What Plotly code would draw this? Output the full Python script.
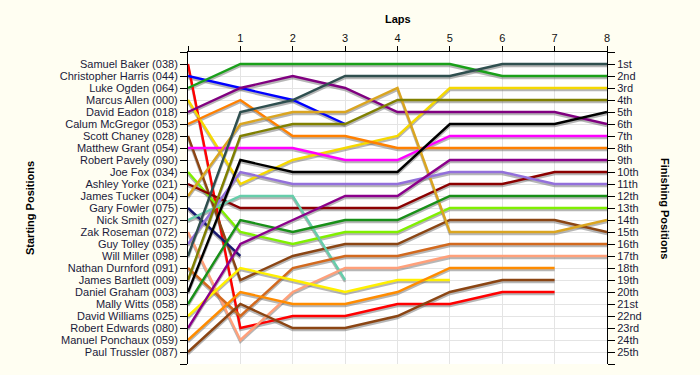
import plotly.graph_objects as go

laps = [0, 1, 2, 3, 4, 5, 6, 7, 8]
lap_labels = ["", "1", "2", "3", "4", "5", "6", "7", "8"]

drivers = [
    "Samuel Baker (038)", "Christopher Harris (044)", "Luke Ogden (064)",
    "Marcus Allen (000)", "David Eadon (018)", "Calum McGregor (053)",
    "Scott Chaney (028)", "Matthew Grant (054)", "Robert Pavely (090)",
    "Joe Fox (034)", "Ashley Yorke (021)", "James Tucker (004)",
    "Gary Fowler (075)", "Nick Smith (027)", "Zak Roseman (072)",
    "Guy Tolley (035)", "Will Miller (098)", "Nathan Durnford (091)",
    "James Bartlett (009)", "Daniel Graham (003)", "Mally Witts (058)",
    "David Williams (025)", "Robert Edwards (080)", "Manuel Ponchaux (059)",
    "Paul Trussler (087)",
]

finish_labels = ["1st", "2nd", "3rd"] + [f"{i}th" for i in range(4, 21)] + ["21st", "22nd", "23rd", "24th", "25th"]

positions = [
    [1, 23, 22, 22, 21, 21, 20, 20],
    [2, 3, 4, 6],
    [3, 1, 1, 1, 1, 1, 2, 2, 2],
    [4, 11, 9, 8, 7, 3, 3, 3, 3],
    [5, 3, 2, 3, 5, 5, 5, 5, 6],
    [6, 4, 7, 7, 8, 8, 8, 8, 8],
    [7, 19, 17, 16, 16, 14, 14, 14, 15],
    [8, 8, 8, 9, 9, 7, 7, 7, 7],
    [9],
    [10, 15, 16, 15, 15, 13, 13, 13, 13],
    [11, 13, 13, 13, 13, 11, 11, 10, 10],
    [12, 6, 5, 5, 3, 15, 15, 15, 14],
    [13, 17],
    [14, 12, 12, 19],
    [15, 24, 20, 18, 18, 17, 17, 17, 17],
    [16, 10, 11, 11, 11, 10, 10, 11, 11],
    [17, 5, 4, 2, 2, 2, 1, 1, 1],
    [18, 22, 18, 17, 17, 16, 16, 16, 16],
    [19, 7, 6, 6, 4, 4, 4, 4, 4],
    [20, 9, 10, 10, 10, 6, 6, 6, 5],
    [21, 14, 15, 14, 14, 12, 12, 12, 12],
    [22, 18, 19, 20, 19, 19],
    [23, 16, 14, 12, 12, 9, 9, 9, 9],
    [24, 20, 21, 21, 20, 18, 18, 18],
    [25, 21, 23, 23, 22, 20, 19, 19],
]

colors = [
    "#FF0000", "#0000FF", "#1AA01A", "#F5D800", "#800080", "#FF8000",
    "#8B4513", "#FF00FF", "#808080", "#80F000", "#8B0000", "#DAA520",
    "#191970", "#66CDAA", "#FFA07A", "#9370DB", "#2F4F4F", "#D2691E",
    "#808000", "#000000", "#189018", "#FFF000", "#8B008B", "#FF8C00",
    "#8B4513",
]

FONT = "Liberation Sans, Arial, sans-serif"
BG = "#FFFEF2"
n_pos = len(drivers)

fig = go.Figure()

# soft shadows under each line
for pos in positions:
    fig.add_trace(go.Scatter(
        x=laps[:len(pos)], y=[p + 0.16 for p in pos], mode="lines",
        line=dict(color="rgba(110,110,110,0.5)", width=2.6),
        hoverinfo="skip", showlegend=False))

for name, pos, col in zip(drivers, positions, colors):
    fig.add_trace(go.Scatter(
        x=laps[:len(pos)], y=pos, mode="lines", name=name,
        line=dict(color=col, width=2.4), showlegend=False))

# dummy trace for the right axis
fig.add_trace(go.Scatter(x=[0], y=[1], yaxis="y2", mode="markers",
                         marker=dict(opacity=0), hoverinfo="skip", showlegend=False))

tickvals = list(range(0, n_pos + 2))
left_text = [""] + drivers + [""]
right_text = [""] + finish_labels + [""]

fig.update_layout(
    width=700, height=375,
    margin=dict(l=188, r=93, t=52, b=11, pad=0),
    paper_bgcolor=BG,
    plot_bgcolor="#FFFFFF",
    font=dict(family=FONT, size=11, color="#222222"),
    xaxis=dict(
        range=[0, 8], side="top", tickvals=laps, ticktext=lap_labels,
        ticks="outside", ticklen=5, tickcolor="black", showline=True,
        linecolor="black", linewidth=1, showgrid=True, gridcolor="#E4E4E4",
        zeroline=False, fixedrange=True, tickfont=dict(size=11, color="#111111"),
    ),
    yaxis=dict(
        range=[n_pos + 1, 0], tickvals=tickvals, ticktext=left_text,
        ticks="outside", ticklen=7, tickcolor="black", showline=True,
        linecolor="black", linewidth=1, showgrid=True, gridcolor="#E4E4E4",
        zeroline=False, fixedrange=True, tickfont=dict(size=11, color="#1a1a3a"),
    ),
    yaxis2=dict(
        range=[n_pos + 1, 0], tickvals=tickvals, ticktext=right_text,
        overlaying="y", side="right", ticks="outside", ticklen=7,
        tickcolor="black", showline=True, linecolor="black", linewidth=1,
        showgrid=False, zeroline=False, fixedrange=True,
        tickfont=dict(size=11, color="#1a1a3a"),
    ),
    annotations=[
        dict(text="<b>Laps</b>", x=0.5, y=1, xref="paper", yref="paper",
             yshift=41, showarrow=False, font=dict(size=11, color="black")),
        dict(text="<b>Starting Positions</b>", x=0, y=0.5, xref="paper",
             yref="paper", xshift=-158, xanchor="center", yanchor="middle",
             showarrow=False, textangle=-90, font=dict(size=11, color="black")),
        dict(text="<b>Finishing Positions</b>", x=1, y=0.5, xref="paper",
             yref="paper", xshift=58, xanchor="center", yanchor="middle",
             showarrow=False, textangle=90, font=dict(size=11, color="black")),
    ],
)

fig.write_html(
    "out.html",
    config={"displayModeBar": False},
    post_script=("document.body.style.margin='0';"
                 "document.body.style.padding='0';"
                 f"document.body.style.background='{BG}';"),
)
